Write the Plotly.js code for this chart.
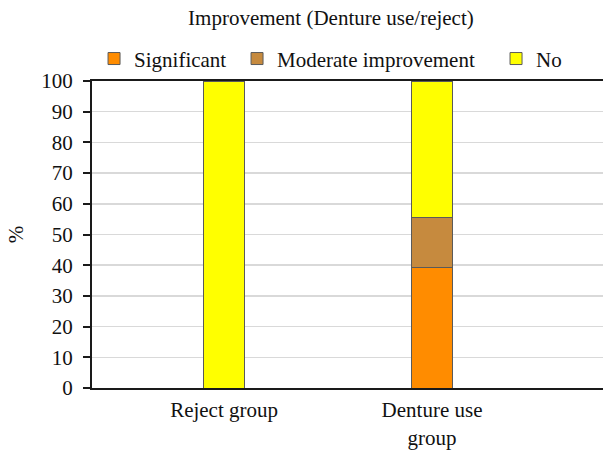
<!DOCTYPE html>
<html>
<head>
<meta charset="utf-8">
<script src="https://cdn.plot.ly/plotly-3.0.1.min.js"></script>
<style>html,body{margin:0;padding:0;background:#fff;}</style>
</head>
<body>
<div id="chart" style="width:605px;height:450px;"></div>
<script>
var categories = ["Reject group", "Denture use<br>group"];
var significant = [0, 39.1];
var moderate = [0, 16.6];
var no = [100, 44.3];
var yTicks = [0, 10, 20, 30, 40, 50, 60, 70, 80, 90, 100];

var outline = {color: "#5a5a5a", width: 1};
var traces = [
  {type: "bar", name: "Significant", x: categories, y: significant, width: 0.2,
   marker: {color: "#FF8C00", line: outline}, legendwidth: 98},
  {type: "bar", name: "Moderate improvement", x: categories, y: moderate, width: 0.2,
   marker: {color: "#C68A3E", line: outline}, legendwidth: 214},
  {type: "bar", name: "No", x: categories, y: no, width: 0.2,
   marker: {color: "#FFFF00", line: outline}}
];

var F = "'Times New Roman', 'Liberation Serif', serif";
var S = 21;
var layout = {
  width: 605, height: 450,
  barmode: "stack",
  paper_bgcolor: "#fff", plot_bgcolor: "#fff",
  font: {family: F, size: S, color: "#111"},
  margin: {l: 92, r: 2, t: 81, b: 62, pad: 0},
  title: {text: "Improvement (Denture use/reject)", x: 0.547, xanchor: "center",
          y: 0.96, yanchor: "middle", yref: "container", font: {family: F, size: S}},
  showlegend: true,
  legend: {orientation: "h", x: 0.004, xanchor: "left", y: 1.072, yanchor: "middle",
           traceorder: "normal", font: {family: F, size: S}, bgcolor: "rgba(0,0,0,0)"},
  xaxis: {type: "category", range: [-0.635, 1.822], showline: true, linecolor: "#1a1a1a",
          linewidth: 2, mirror: true, ticks: "", showgrid: false, zeroline: false,
          ticklabelstandoff: 2, tickfont: {family: F, size: S}},
  yaxis: {range: [0, 100], tickvals: yTicks, showline: true, linecolor: "#1a1a1a", linewidth: 2,
          ticks: "outside", ticklen: 7, tickwidth: 2, tickcolor: "#1a1a1a",
          showgrid: true, gridcolor: "#d9d9d9", gridwidth: 1.5, zeroline: false,
          ticklabelstandoff: 6, tickfont: {family: F, size: S},
          title: {text: "%", standoff: 12, font: {family: F, size: S}}}
};

Plotly.newPlot("chart", traces, layout, {displayModeBar: false, staticPlot: true});
</script>
</body>
</html>
